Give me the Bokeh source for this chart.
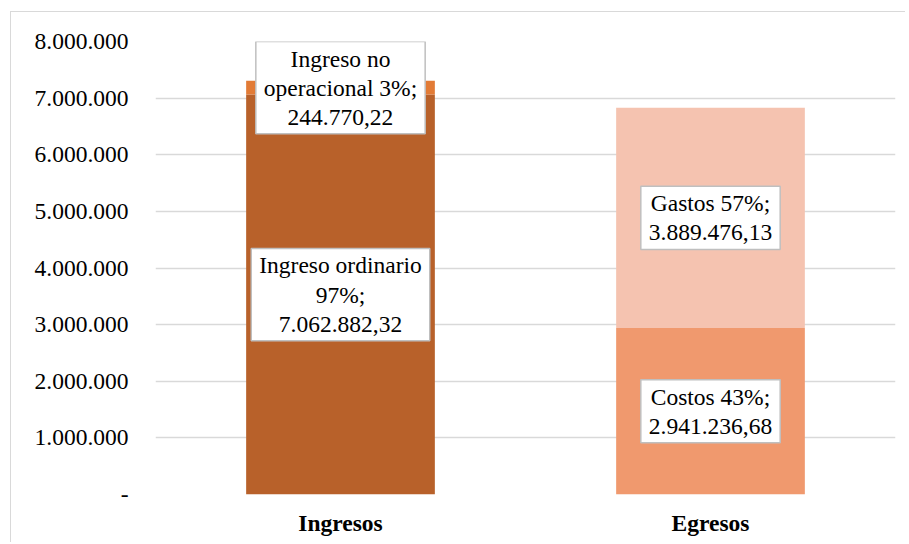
from bokeh.plotting import figure
from bokeh.models import ColumnDataSource, FactorRange, FixedTicker
from bokeh.core.properties import value
from bokeh.embed import file_html
from bokeh.resources import INLINE

categories = ["Ingresos", "Egresos"]
series_bottom_names = ["Ingreso ordinario", "Costos"]
series_bottom_values = [7062882.32, 2941236.68]
series_top_names = ["Ingreso no operacional", "Gastos"]
series_top_values = [244770.22, 3889476.13]
label_bottom = ["Ingreso ordinario\n97%;\n7.062.882,32", "Costos 43%;\n2.941.236,68"]
label_top = ["Ingreso no\noperacional 3%;\n244.770,22", "Gastos 57%;\n3.889.476,13"]
colors_bottom = ["#B8612A", "#F0996E"]
colors_top = ["#E27B36", "#F5C3B0"]
tick_values = [0, 1000000, 2000000, 3000000, 4000000, 5000000, 6000000, 7000000, 8000000]
tick_labels = ["-", "1.000.000", "2.000.000", "3.000.000", "4.000.000",
               "5.000.000", "6.000.000", "7.000.000", "8.000.000"]

FONT = "'Liberation Serif', 'Times New Roman', serif"
FS = "23.5px"

p = figure(x_range=FactorRange(factors=categories, range_padding=0),
           y_range=(0, 8000000),
           frame_width=740, frame_height=453,
           min_border_left=144, min_border_right=10, min_border_top=29, min_border_bottom=48,
           output_backend="svg", toolbar_location=None,
           background_fill_color="white", border_fill_color="white",
           margin=(11, 0, 0, 10))
p.outline_line_color = None
p.styles = {"border-left": "1.5px solid #d9d9d9", "border-top": "1.5px solid #d9d9d9"}

bottoms0 = [0, 0]
tops0 = series_bottom_values
bottoms1 = series_bottom_values
tops1 = [a + b for a, b in zip(series_bottom_values, series_top_values)]

src0 = ColumnDataSource(dict(x=categories, bottom=bottoms0, top=tops0, color=colors_bottom,
                             ly=[(a + b) / 2 for a, b in zip(bottoms0, tops0)], lbl=label_bottom))
src1 = ColumnDataSource(dict(x=categories, bottom=bottoms1, top=tops1, color=colors_top,
                             ly=[(a + b) / 2 for a, b in zip(bottoms1, tops1)], lbl=label_top))

p.vbar(x="x", bottom="bottom", top="top", width=0.51, color="color", line_color=None, source=src0)
p.vbar(x="x", bottom="bottom", top="top", width=0.51, color="color", line_color=None, source=src1)

for src in (src0, src1):
    p.text(x="x", y="ly", text="lbl", source=src,
           text_font=value(FONT), text_font_size=FS, text_color="#000000",
           text_align="center", text_baseline="middle", text_line_height=1.12,
           background_fill_color="white", border_line_color="#bfbfbf", border_line_width=1.5,
           padding=(8, 4))

p.xgrid.grid_line_color = None
p.ygrid.grid_line_color = "#d9d9d9"
p.ygrid.grid_line_width = 1.5
p.yaxis.ticker = FixedTicker(ticks=tick_values)
p.yaxis.major_label_overrides = {v: l for v, l in zip(tick_values, tick_labels)}
p.yaxis.axis_line_color = None
p.yaxis.major_tick_line_color = None
p.yaxis.minor_tick_line_color = None
p.yaxis.major_label_standoff = 21
p.yaxis.major_label_text_font = FONT
p.yaxis.major_label_text_font_size = FS
p.yaxis.major_label_text_color = "#000000"

p.xaxis.axis_line_color = None
p.xaxis.major_tick_line_color = None
p.xaxis.minor_tick_line_color = None
p.xaxis.major_label_standoff = 9
p.xaxis.major_label_text_font = FONT
p.xaxis.major_label_text_font_style = "bold"
p.xaxis.major_label_text_font_size = FS
p.xaxis.major_label_text_color = "#000000"

open("out.html", "w").write(file_html(p, INLINE))
